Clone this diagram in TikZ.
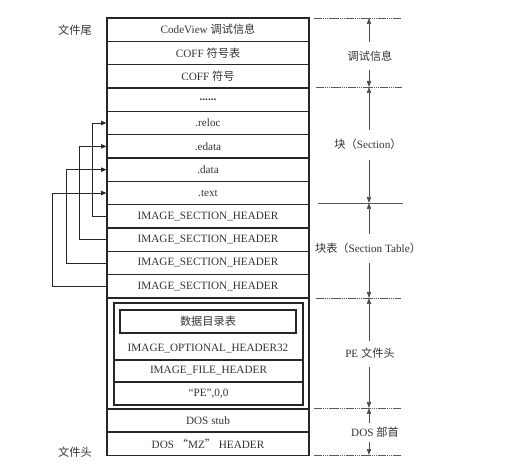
\documentclass[tikz,border=0pt]{standalone}
\usepackage{fontspec}
\setmainfont{Liberation Serif}
\newfontfamily\cjk{Noto Sans CJK SC}
\usetikzlibrary{arrows.meta}
\begin{document}
\begin{tikzpicture}[x=0.75pt,y=-0.75pt,
  font=\fontsize{8.4}{9}\selectfont, text=black!80,
  row/.style={draw=black!85, line width=0.8pt, minimum width=151.5pt, minimum height=17.5pt, inner sep=0pt},
  inrow/.style={draw=black!85, line width=0.8pt, minimum width=141.75pt, minimum height=17.25pt, inner sep=0pt},
  lab/.style={inner sep=1pt},
  link/.style={draw=black!85, line width=0.7pt, -{Triangle[length=4pt,width=3.2pt]}},
  dim/.style={draw=black!70, line width=0.5pt, -{Triangle[length=4.5pt,width=3.2pt]}},
  guide/.style={draw=black!65, line width=0.6pt, dash pattern=on 1.2pt off 0.4pt}]
\useasboundingbox (0,0) rectangle (514,466);
% main column
\node[row] (cv)    at (208,29.67)  {CodeView {\cjk 调试信息}};
\node[row] (coffT) at (208,53)     {COFF {\cjk 符号表}};
\node[row] (coff)  at (208,76.33)  {COFF {\cjk 符号}};
\node[row] (dots)  at (208,99.67)  {\textbf{......}};
\node[row] (reloc) at (208,123)    {.reloc};
\node[row] (edata) at (208,146.33) {.edata};
\node[row] (data)  at (208,169.67) {.data};
\node[row] (text)  at (208,193)    {.text};
\node[row] (ish1)  at (208,216.33) {IMAGE\_SECTION\_HEADER};
\node[row] (ish2)  at (208,239.67) {IMAGE\_SECTION\_HEADER};
\node[row] (ish3)  at (208,263)    {IMAGE\_SECTION\_HEADER};
\node[row] (ish4)  at (208,286.33) {IMAGE\_SECTION\_HEADER};
\node[row, minimum height=83.25pt] (pe) at (208,353.5) {};
\node[inrow, minimum height=76.5pt] (peIn) at (208.5,354) {};
\node[draw=black!85, line width=0.8pt, minimum width=132pt, minimum height=17.25pt, inner sep=0pt] (dir) at (208,321.5) {{\cjk 数据目录表}};
\node[lab] (opt) at (208,349) {IMAGE\_OPTIONAL\_HEADER32};
\node[inrow, minimum height=16.5pt] (fh) at (208.5,371) {IMAGE\_FILE\_HEADER};
\node[inrow, minimum height=17.25pt] (sig) at (208.5,393.5) {``PE'',0,0};
\node[row] (stub)  at (208,420.5)  {DOS stub};
\node[row] (mz)    at (208,443.5)  {DOS {\cjk “}MZ{\cjk ”} HEADER};
% left labels
\node[lab] (tail) at (75,30)  {\cjk 文件尾};
\node[lab] (head) at (75,452) {\cjk 文件头};
% links
\draw[link] (ish1.west) -- ++(-14,0) |- (reloc.west);
\draw[link] (ish2.west) -- ++(-27,0) |- (edata.west);
\draw[link] (ish3.west) -- ++(-40,0) |- (data.west);
\draw[link] (ish4.west) -- ++(-54,0) |- (text.west);
% right guides
\draw[guide] (314,18) -- (401,18);
\draw[guide] (316,87) -- (402,87);
\draw[draw=black!65, line width=0.6pt] (318,203) -- (403,203);
\draw[guide] (316,298) -- (401,298);
\draw[guide] (314,408) -- (401,408);
\draw[guide] (314,455) -- (401,455);
\coordinate (g0) at (369,18);
\coordinate (g1) at (369,87);
\coordinate (g2) at (369,203);
\coordinate (g3) at (369,298);
\coordinate (g4) at (369,408);
\coordinate (g5) at (369,455);
% right labels
\node[lab] (l1) at (370,56)  {\cjk 调试信息};
\node[lab] (l2) at (368,144) {{\cjk 块（}Section{\cjk ）}};
\node[lab] (l3) at (368,248) {{\cjk 块表（}Section Table{\cjk ）}};
\node[lab] (l4) at (370,353) {PE {\cjk 文件头}};
\node[lab] (l5) at (375,432) {DOS {\cjk 部首}};
% dimension arrows
\draw[dim] (369,42) -- (g0);
\draw[dim] (369,70) -- (g1);
\draw[dim] (369,130) -- (g1);
\draw[dim] (369,160) -- (g2);
\draw[dim] (369,234) -- (g2);
\draw[dim] (369,263) -- (g3);
\draw[dim] (369,341) -- (g3);
\draw[dim] (369,367) -- (g4);
\draw[dim] (369,423) -- (g4);
\draw[dim] (369,442) -- (g5);
\end{tikzpicture}
\end{document}
